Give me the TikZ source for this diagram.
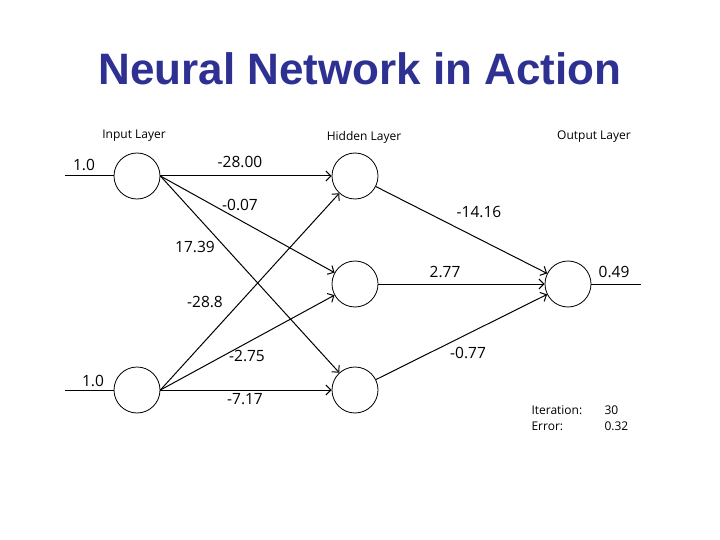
\documentclass[tikz,border=0pt]{standalone}
\usepackage{fontspec}
\setmainfont{Open Sans}
\newfontfamily\titlefont{Liberation Sans}
\usetikzlibrary{arrows.meta}
\definecolor{titleblue}{HTML}{2E3192}
\begin{document}
\begin{tikzpicture}[x=1pt,y=-1pt,
  neuron/.style={circle,draw,line width=0.8pt,minimum size=46pt,inner sep=0pt},
  wt/.style={font=\fontsize{15.5}{18}\selectfont},
  layer/.style={font=\fontsize{12}{15}\selectfont},
  conn/.style={line width=1pt,-{Straight Barb[length=5pt,width=10pt,line width=1pt]}},
  plain/.style={line width=1pt}]
\useasboundingbox (0,0) rectangle (720,540);
\node[font=\titlefont\bfseries\fontsize{44}{52}\selectfont,text=titleblue] (title) at (360,69) {Neural Network in Action};
\node[layer] (lin) at (134,136) {Input Layer};
\node[layer] (lhid) at (364,137) {Hidden Layer};
\node[layer] (lout) at (594,137) {Output Layer};
\node[neuron] (i1) at (137,176) {};
\node[neuron] (i2) at (137,390) {};
\node[neuron] (h1) at (355,176) {};
\node[neuron] (h2) at (355,284) {};
\node[neuron] (h3) at (355,390) {};
\node[neuron] (o) at (568,284) {};
\coordinate (x1) at (65,176);
\coordinate (x2) at (65,390);
\coordinate (y) at (641,284);
\draw[plain] (x1) -- (i1);
\draw[plain] (x2) -- (i2);
\draw[plain] (o) -- (y);
\draw[conn] (i1.east) -- (h1);
\draw[conn] (i1.east) -- (h2);
\draw[conn] (i1.east) -- (h3);
\draw[conn] (i2.east) -- (h1);
\draw[conn] (i2.east) -- (h2);
\draw[conn] (i2.east) -- (h3);
\draw[conn] (h1) -- (o);
\draw[conn] (h2) -- (o);
\draw[conn] (h3) -- (o);
\node[wt] (w0) at (84,165) {1.0};
\node[wt] (w1) at (93,381) {1.0};
\node[wt] (a1) at (240,162) {-28.00};
\node[wt] (a2) at (240,205) {-0.07};
\node[wt] (a3) at (195,247) {17.39};
\node[wt] (a4) at (205,302) {-28.8};
\node[wt] (a5) at (247,356) {-2.75};
\node[wt] (a6) at (245,399) {-7.17};
\node[wt] (b1) at (479,212) {-14.16};
\node[wt] (b2) at (445,272) {2.77};
\node[wt] (b3) at (468,353) {-0.77};
\node[wt] (out) at (614,272) {0.49};
\node[layer,anchor=west] (it) at (528,410) {Iteration:};
\node[layer,anchor=west] (itv) at (601,410) {30};
\node[layer,anchor=west] (er) at (528,426) {Error:};
\node[layer,anchor=west] (erv) at (601,426) {0.32};
\end{tikzpicture}
\end{document}
